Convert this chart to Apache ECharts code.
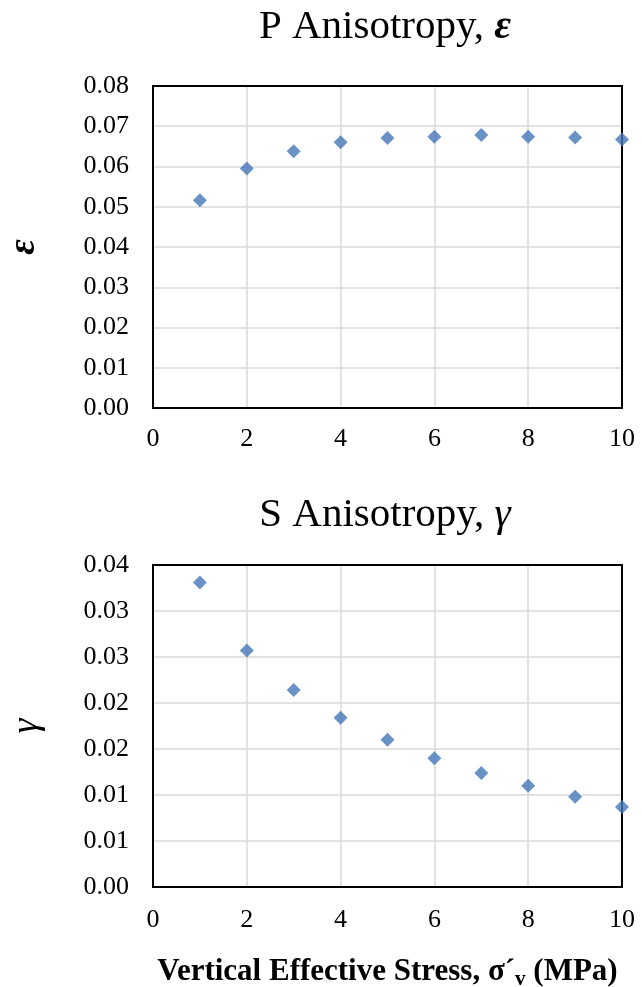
<!DOCTYPE html>
<html>
<head>
<meta charset="utf-8">
<script src="https://cdn.jsdelivr.net/npm/echarts@6/dist/echarts.min.js"></script>
<style>
  html, body { margin: 0; padding: 0; background: #fff; }
  #main { width: 642px; height: 987px; }
</style>
</head>
<body>
<div id="main"></div>
<script>
// stress values (MPa)
var stress = [1, 2, 3, 4, 5, 6, 7, 8, 9, 10];
// P anisotropy epsilon
var epsilonVals = [0.0516, 0.0595, 0.0638, 0.0660, 0.0671, 0.0674, 0.0678, 0.0674, 0.0672, 0.0667];
// S anisotropy gamma
var gammaVals = [0.0331, 0.0257, 0.0214, 0.0184, 0.0160, 0.0140, 0.0124, 0.0110, 0.0098, 0.0087];

var font = 'Liberation Serif';
var blue = '#4677b8';

function pairs(xs, ys) {
    var out = [];
    for (var i = 0; i < xs.length; i++) out.push([xs[i], ys[i]]);
    return out;
}

function fmt2(v) {
    return (Math.round(v * 100 + 1e-9) / 100).toFixed(2);
}

var dom = document.getElementById('main');
var myChart = echarts.init(dom);

// inner grid lines only, the frame is the grid border
var gridLine = { show: true, showMinLine: false, showMaxLine: false, lineStyle: { color: '#d9d9d9', width: 1.5 } };
var lbl = { fontFamily: font, fontSize: 26, color: '#000' };

var option = {
    animation: false,
    title: [
        {
            text: 'P Anisotropy, {g|ε}',
            left: 380, top: 2, textAlign: 'center',
            textStyle: {
                fontFamily: font, fontSize: 41, fontWeight: 'normal', color: '#000',
                rich: { g: { fontFamily: font, fontSize: 41, fontWeight: 'bold', fontStyle: 'italic', color: '#000' } }
            }
        },
        {
            text: 'S Anisotropy, {g|γ}',
            left: 380, top: 490, textAlign: 'center',
            textStyle: {
                fontFamily: font, fontSize: 41, fontWeight: 'normal', color: '#000',
                rich: { g: { fontFamily: font, fontSize: 41, fontStyle: 'italic', color: '#000' } }
            }
        }
    ],
    grid: [
        { left: 153, top: 86, width: 469, height: 322, outerBoundsMode: 'none', containLabel: false,
          show: true, borderColor: '#000', borderWidth: 2, z: 3 },
        { left: 153, top: 565, width: 469, height: 322, outerBoundsMode: 'none', containLabel: false,
          show: true, borderColor: '#000', borderWidth: 2, z: 3 }
    ],
    xAxis: [
        {
            gridIndex: 0, type: 'value', min: 0, max: 10, interval: 2,
            axisLine: { show: false }, axisTick: { show: false },
            axisLabel: Object.assign({ margin: 18 }, lbl),
            splitLine: gridLine
        },
        {
            gridIndex: 1, type: 'value', min: 0, max: 10, interval: 2,
            axisLine: { show: false }, axisTick: { show: false },
            axisLabel: Object.assign({ margin: 20 }, lbl),
            splitLine: gridLine,
            name: 'Vertical Effective Stress, σ´{s|v} (MPa)',
            nameLocation: 'middle', nameGap: 66,
            nameTextStyle: {
                fontFamily: font, fontSize: 31, fontWeight: 'bold', color: '#000',
                rich: { s: { fontFamily: font, fontSize: 21, fontWeight: 'bold', color: '#000', padding: [16, 0, 0, 0] } }
            }
        }
    ],
    yAxis: [
        {
            gridIndex: 0, type: 'value', min: 0, max: 0.08, interval: 0.01,
            axisLine: { show: false }, axisTick: { show: false },
            axisLabel: Object.assign({ margin: 24, formatter: fmt2 }, lbl),
            splitLine: gridLine,
            name: 'ε', nameLocation: 'middle', nameRotate: 90, nameGap: 110,
            nameTextStyle: { fontFamily: font, fontSize: 38, fontWeight: 'bold', fontStyle: 'italic', color: '#000' }
        },
        {
            gridIndex: 1, type: 'value', min: 0, max: 0.035, interval: 0.005,
            axisLine: { show: false }, axisTick: { show: false },
            axisLabel: Object.assign({ margin: 24, formatter: fmt2 }, lbl),
            splitLine: gridLine,
            name: 'γ', nameLocation: 'middle', nameRotate: 90, nameGap: 107,
            nameTextStyle: { fontFamily: font, fontSize: 38, fontStyle: 'italic', color: '#000' }
        }
    ],
    series: [
        {
            type: 'scatter', xAxisIndex: 0, yAxisIndex: 0,
            data: pairs(stress, epsilonVals),
            symbol: 'diamond', symbolSize: 14, clip: false, z: 5,
            itemStyle: { color: blue }
        },
        {
            type: 'scatter', xAxisIndex: 1, yAxisIndex: 1,
            data: pairs(stress, gammaVals),
            symbol: 'diamond', symbolSize: 14, clip: false, z: 5,
            itemStyle: { color: blue }
        }
    ]
};

if (option && typeof option === 'object') {
    myChart.setOption(option, true);
}
</script>
</body>
</html>
